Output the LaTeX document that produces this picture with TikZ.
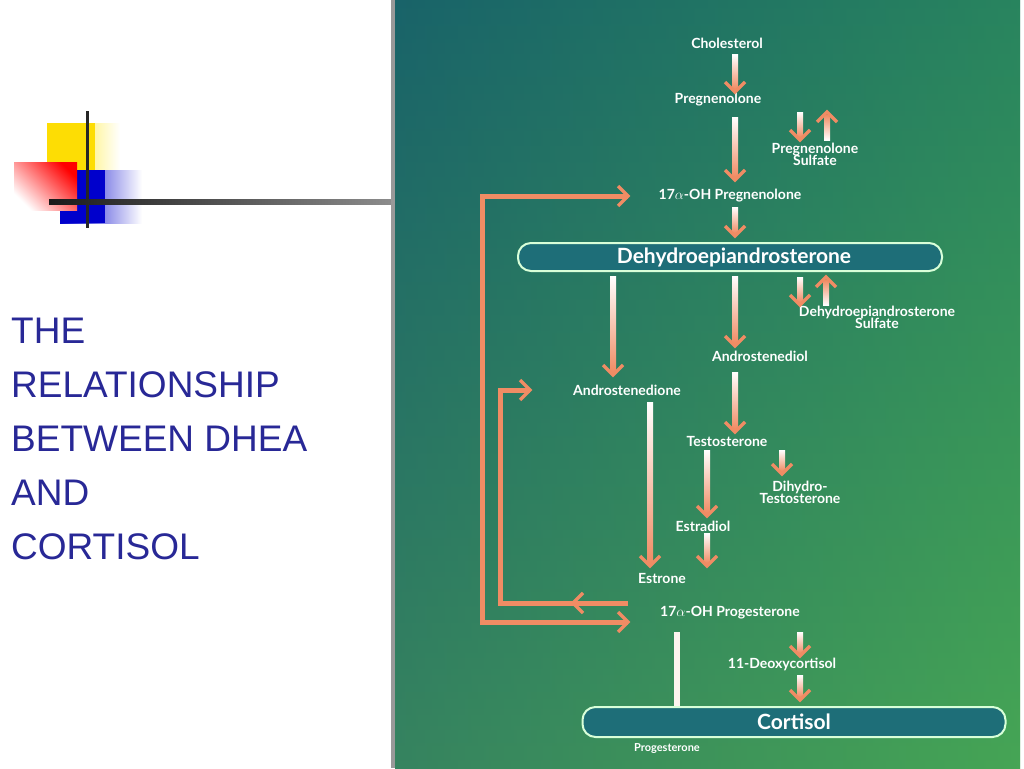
\documentclass[tikz,border=0pt]{standalone}
\usepackage{fontspec}
\setmainfont{Liberation Sans}
\newfontfamily\lab{Lato}
\definecolor{sal}{RGB}{240,140,100}
\definecolor{ttl}{RGB}{40,40,150}
\definecolor{ptop}{RGB}{25,115,100}
\definecolor{pmid}{RGB}{25,70,115}
\definecolor{pbot}{RGB}{70,165,85}
\definecolor{barc}{RGB}{30,110,120}
\newcommand\fdown[3]{\shade[top color=white,bottom color=sal] ({#1-3},#2) rectangle ({#1+3},{#3-3});
 \draw[sal,line width=3.5pt,line join=miter] ({#1-10},{#3-10}) -- (#1,#3) -- ({#1+10},{#3-10});}
\newcommand\fup[3]{\shade[top color=sal,bottom color=white] ({#1-3},{#3+3}) rectangle ({#1+3},#2);
 \draw[sal,line width=3.5pt,line join=miter] ({#1-10},{#3+10}) -- (#1,#3) -- ({#1+10},{#3+10});}
\tikzset{lb/.style={text=white,font=\lab\bfseries\fontsize{14}{14}\selectfont,align=center,inner sep=1pt},
 bar/.style={draw=white!85!green,line width=2pt,fill=barc,rounded corners=13pt},
 ttlt/.style={text=ttl,font=\fontsize{37}{54}\selectfont,align=left,anchor=north west,inner sep=0pt}}
\begin{document}
\begin{tikzpicture}[x=1pt,y=-1pt]
\useasboundingbox (0,0) rectangle (1024,768);
\fill[white] (0,0) rectangle (1024,768);
% decoration
\shade[left color=yellow!80!orange,right color=white] (47,123) rectangle (120,190);
\fill[yellow!80!orange] (47,123) rectangle (95,190);
\shade[left color=blue!80!black,right color=white] (60,170) rectangle (142,223);
\fill[blue!80!black] (60,170) rectangle (105,223);
\shade[top color=red,bottom color=white,shading angle=-45] (14,162) rectangle (77,210);
\draw[black!85,line width=3pt] (87,111) -- (87,228);
\shade[left color=black!90,right color=black!45] (49,199) rectangle (393,204);
\node[ttlt] (title) at (11,318) {THE\\RELATIONSHIP\\BETWEEN DHEA\\AND\\CORTISOL};
% panel
\fill[black!40] (391,0) rectangle (395,768);
\shade[top color=ptop,middle color=pmid,bottom color=pbot] (395,0) rectangle (1020,768);
\shade[left color=pmid,right color=pbot,opacity=0.35] (395,0) rectangle (1020,768);
% bars
\node[bar,minimum width=424pt,minimum height=28pt] (dheabar) at (730,257) {};
\node[text=white,font=\lab\bfseries\fontsize{21}{22}\selectfont] (dhea) at (734,257) {Dehydroepiandrosterone};
\node[bar,minimum width=423pt,minimum height=30pt] (cortbar) at (794,722) {};
\node[text=white,font=\lab\bfseries\fontsize{21}{22}\selectfont] (cort) at (794,722) {Cortisol};
% labels
\node[lb] (chol) at (727,43) {Cholesterol};
\node[lb] (preg) at (718,100) {Pregnenolone};
\node[lb] (pregs) at (815,154) {Pregnenolone\\[-2pt]Sulfate};
\node[lb] (ohpreg) at (730,196) {17$\alpha$-OH Pregnenolone};
\node[lb] (dheas) at (877,317) {Dehydroepiandrosterone\\[-2pt]Sulfate};
\node[lb] (adiol) at (760,356) {Androstenediol};
\node[lb] (adione) at (627,390) {Androstenedione};
\node[lb] (testo) at (727,441) {Testosterone};
\node[lb] (dht) at (800,492) {Dihydro-\\[-2pt]Testosterone};
\node[lb] (estra) at (703,526) {Estradiol};
\node[lb] (estro) at (662,578) {Estrone};
\node[lb] (ohprog) at (730,613) {17$\alpha$-OH Progesterone};
\node[lb] (deoxy) at (782,664) {11-Deoxycortisol};
\node[lb,font=\lab\bfseries\fontsize{11}{12}\selectfont] (prog) at (667,749) {Progesterone};
% arrows
\fdown{735}{55}{92}
\fdown{735}{117}{180}
\fdown{800}{112}{140}
\fup{827}{140}{112}
\fdown{735}{207}{236}
\fdown{613}{276}{375}
\fdown{735}{276}{346}
\fdown{800}{277}{305}
\fup{826}{305}{277}
\fdown{735}{372}{432}
\fdown{650}{402}{566}
\fdown{707}{450}{516}
\fdown{782}{450}{474}
\fdown{707}{533}{566}
\fdown{800}{632}{656}
\fdown{800}{675}{700}
\fill[white!90!sal] (674,632) rectangle (680,706);
% outer bracket
\coordinate (o1) at (628,196); \coordinate (o2) at (628,622);
\draw[sal,line width=5pt] (o1) -- (482,196) -- (482,622) -- (o2);
\shade[top color=sal,middle color=white!85!sal,bottom color=sal] (480,215) rectangle (484,600);
\draw[sal,line width=3.5pt] (618,186) -- (o1) -- (618,206);
\draw[sal,line width=3.5pt] (618,612) -- (o2) -- (618,632);
% inner bracket
\coordinate (i1) at (530,390);
\draw[sal,line width=5pt] (628,603) -- (500,603) -- (500,390) -- (i1);
\shade[top color=sal,middle color=white!85!sal,bottom color=sal] (498,405) rectangle (502,590);
\draw[sal,line width=3.5pt] (520,380) -- (i1) -- (520,400);
\draw[sal,line width=3.5pt] (583,593) -- (573,603) -- (583,613);
\end{tikzpicture}
\end{document}
